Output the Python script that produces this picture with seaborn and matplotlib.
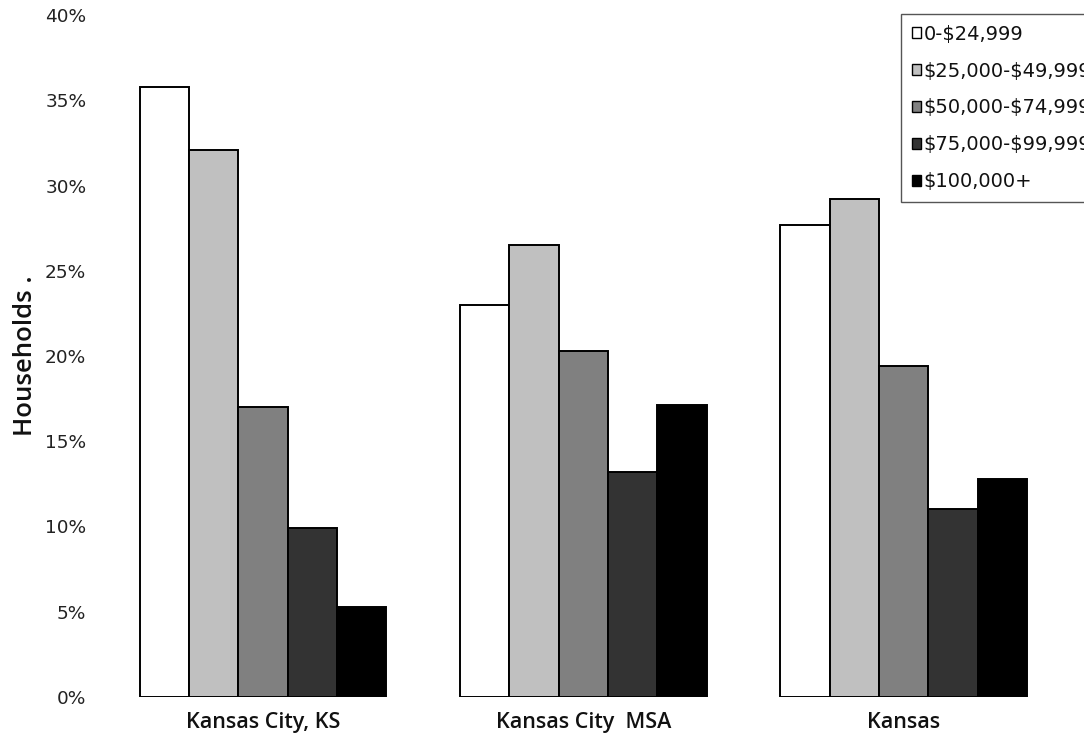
import matplotlib
matplotlib.use("Agg")
import matplotlib.pyplot as plt
import seaborn as sns
import pandas as pd

# Household income distribution by area (share of households, %)
areas = ["Kansas City, KS", "Kansas City  MSA", "Kansas"]
brackets = ["0-$24,999", "$25,000-$49,999", "$50,000-$74,999",
            "$75,000-$99,999", "$100,000+"]
kck = [35.8, 32.1, 17.0, 9.9, 5.3]
msa = [23.0, 26.5, 20.3, 13.2, 17.1]
kansas = [27.7, 29.2, 19.4, 11.0, 12.8]
y_ticks = [0, 5, 10, 15, 20, 25, 30, 35, 40]
y_tick_labels = ["0%", "5%", "10%", "15%", "20%", "25%", "30%", "35%", "40%"]
bar_colors = ["#FFFFFF", "#C0C0C0", "#808080", "#333333", "#000000"]

rows = []
for area, vals in zip(areas, [kck, msa, kansas]):
    for b, v in zip(brackets, vals):
        rows.append({"Area": area, "Bracket": b, "Share": v})
df = pd.DataFrame(rows)

sns.set_theme(style="white")
plt.rcParams["font.family"] = ["DejaVu Sans"]

fig = plt.figure(figsize=(10.84, 7.44), dpi=100)
ax = fig.add_axes([0.095, 0.0632, 0.8865, 0.9166])

sns.barplot(data=df, x="Area", y="Share", hue="Bracket",
            order=areas, hue_order=brackets,
            palette=bar_colors, width=0.77, saturation=1,
            edgecolor="black", linewidth=1.4, ax=ax)

ax.set_ylim(0, 40)
ax.set_xlim(-0.5, 2.5)
ax.set_yticks(y_ticks)
ax.set_yticklabels(y_tick_labels, fontsize=13.3, color="#222222")
ax.tick_params(axis="y", length=0, pad=12)
ax.tick_params(axis="x", length=0, pad=11)
for lbl in ax.get_xticklabels():
    lbl.set_fontsize(15.5)
    lbl.set_fontfamily(["Open Sans", "DejaVu Sans"])
    lbl.set_fontweight("semibold")
    lbl.set_color("#111111")
ax.set_xlabel("")
ax.set_ylabel("Households .", fontsize=18.5, fontweight="semibold",
              fontfamily=["Open Sans", "DejaVu Sans"], labelpad=5,
              color="#111111")
for s in ax.spines.values():
    s.set_visible(False)

handles, labels = ax.get_legend_handles_labels()
ax.get_legend().remove()
leg = fig.legend(handles, labels, loc="upper left",
                 bbox_to_anchor=(901 / 1084, 1 - 14 / 744),
                 bbox_transform=fig.transFigure,
                 fontsize=14, frameon=True, fancybox=False,
                 edgecolor="#555555", framealpha=1,
                 handlelength=0.5, handleheight=0.5, handletextpad=0.12,
                 labelspacing=0.92, borderpad=0.55, borderaxespad=0)
leg.get_frame().set_linewidth(1.0)
for t in leg.get_texts():
    t.set_parse_math(False)
    t.set_color("#111111")
for h in leg.legend_handles:
    h.set_edgecolor("black")
    h.set_linewidth(1.0)

fig.savefig("out.png", dpi=100)
